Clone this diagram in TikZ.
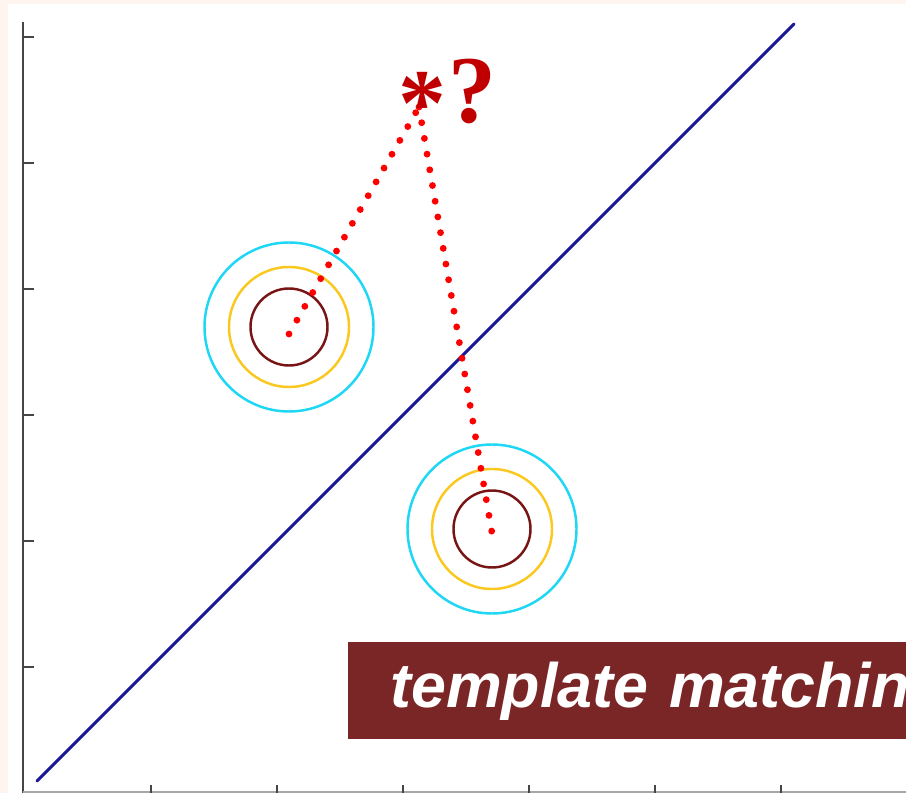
\documentclass[tikz,border=0pt]{standalone}
\usepackage{fontspec}
\usetikzlibrary{positioning, calc}

\newfontfamily\bannerfont{Liberation Sans}
\newfontfamily\markfont{Liberation Serif}

\definecolor{peach}{RGB}{255,244,238}
\definecolor{axisgray}{RGB}{70,70,70}
\definecolor{navyline}{RGB}{26,26,150}
\definecolor{cyanring}{RGB}{30,215,245}
\definecolor{goldring}{RGB}{250,200,30}
\definecolor{maroonring}{RGB}{120,20,20}
\definecolor{bannerred}{RGB}{123,38,38}
\definecolor{markred}{RGB}{192,0,0}

\begin{document}
\begin{tikzpicture}[
    x=0.02cm, y=-0.02cm,
    axis/.style={axisgray, line width=1.7pt},
    tick/.style={axisgray, line width=1.5pt},
    boundary/.style={navyline, line width=1.7pt, line cap=round},
    ring/.style={line width=1.4pt},
    match/.style={red, line width=3.9pt, line cap=round, dash pattern=on 0pt off 9.07pt},
    glyph/.style={markred, inner sep=0pt, font=\markfont\bfseries\fontsize{54.5}{60}\selectfont},
    banner/.style={fill=bannerred, text=white, anchor=north west, minimum height=1.94cm,
                   inner xsep=0.84cm, text width=16cm, align=left,
                   font=\bannerfont\bfseries\itshape\fontsize{35.7}{40}\selectfont}
]

% -------------------------
% PAGE
% -------------------------
\clip (0,0) rectangle (906,793);
\fill[peach] (0,0) rectangle (906,793);
\fill[white] (8,4) rectangle (906,793);

% -------------------------
% AXES
% -------------------------
\draw[axis] (23,22) -- (23,793);
\draw[gray!70, line width=1.2pt] (23,792) -- (906,792);
\foreach \y in {37,163,...,667}
    \draw[tick] (23,\y) -- (34,\y);
\foreach \x in {151,277,...,781}
    \draw[tick] (\x,785) -- (\x,793);

% -------------------------
% DECISION LINE
% -------------------------
\coordinate (lo) at (37,781);
\coordinate (hi) at (794,24);
\draw[boundary] (lo) -- (hi);

% -------------------------
% TEMPLATES
% -------------------------
\coordinate (tmplA) at (289,327);
\coordinate (tmplB) at (492,529);

\foreach \c in {tmplA, tmplB} {
    \draw[ring, cyanring] (\c) circle (84.5);
    \draw[ring, goldring] (\c) circle (60);
    \draw[ring, maroonring] (\c) circle (38.5);
}

% -------------------------
% QUERY POINT
% -------------------------
\coordinate (apex) at (419,107);
\coordinate (endA) at (289,334);
\coordinate (endB) at (492,533);

\draw[match] (endA) -- (apex);
\draw[match] (apex) -- (endB);

\node[glyph, anchor=base] (star) at (422,136) {*};
\node[glyph, anchor=base west] (query) at (448,123) {?};

% -------------------------
% LABEL
% -------------------------
\node[banner] (caption) at (348,642) {template matching};

\end{tikzpicture}
\end{document}
